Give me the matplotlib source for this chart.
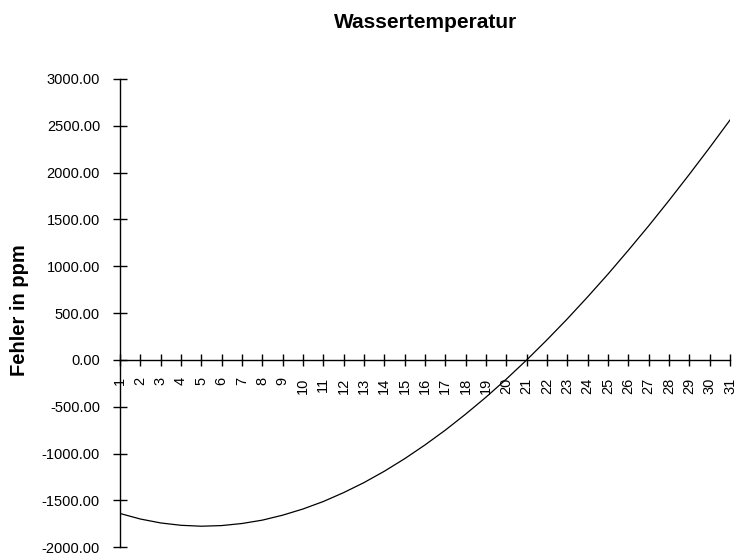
import matplotlib.pyplot as plt

plt.rcParams['font.family'] = ['Liberation Sans', 'DejaVu Sans']

# temperature steps on the x axis
temps = list(range(1, 32))
# error in ppm
fehler = [-1639, -1698, -1740, -1765, -1775, -1768, -1746, -1710, -1657, -1591,
          -1511, -1416, -1309, -1188, -1054, -907, -749, -578, -397, -204,
          0, 215, 439, 674, 917, 1171, 1432, 1703, 1982, 2268, 2562]
y_ticks = [-2000, -1500, -1000, -500, 0, 500, 1000, 1500, 2000, 2500, 3000]

fig = plt.figure(figsize=(7.39, 5.56), dpi=100, facecolor='w')
ax = fig.add_axes([120/739, 1-547.3/556, 610/739, 468.3/556])

ax.plot(temps, fehler, color='black', linewidth=0.9)

ax.set_xlim(1, 31)
ax.set_ylim(-2000, 3000)
ax.spines['top'].set_visible(False)
ax.spines['right'].set_visible(False)
ax.spines['bottom'].set_position(('data', 0))
ax.spines['left'].set_linewidth(1.0)
ax.spines['bottom'].set_linewidth(1.0)

ax.set_xticks(temps)
ax.set_xticklabels([str(t) for t in temps], rotation=90, fontsize=10.5)
ax.set_yticks(y_ticks)
ax.set_yticklabels(['%.2f' % v for v in y_ticks], fontsize=10.5)

ax.tick_params(axis='x', direction='inout', length=8.6, width=1.0, pad=8.2)
ax.tick_params(axis='y', direction='inout', length=10, width=1.0, pad=9.4)

fig.text(426/739, 1-22/556, 'Wassertemperatur', ha='center', va='center',
         fontsize=15, fontweight='bold')
fig.text(20/739, 1-310/556, 'Fehler in ppm', ha='center', va='center',
         rotation=90, fontsize=14.5, fontweight='bold')

fig.savefig('out.png', dpi=100)
